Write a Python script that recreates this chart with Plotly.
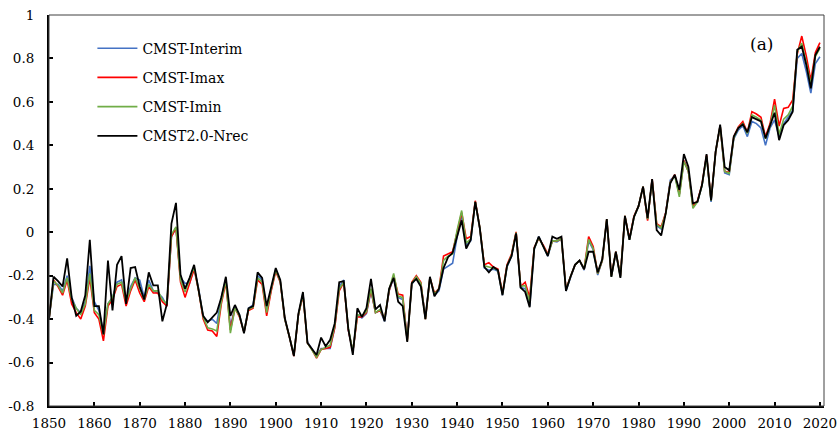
import plotly.graph_objects as go

years = list(range(1850, 2021))

cmst_interim = [
    -0.40, -0.24, -0.24, -0.27, -0.20, -0.30, -0.35, -0.37, -0.32, -0.155,
    -0.32, -0.36, -0.46, -0.33, -0.30, -0.23, -0.22, -0.31, -0.25, -0.21,
    -0.22, -0.30, -0.22, -0.27, -0.28, -0.30, -0.34, -0.02, 0.02, -0.21,
    -0.235, -0.235, -0.165, -0.26, -0.39, -0.41, -0.40, -0.42, -0.30, -0.215,
    -0.435, -0.345, -0.38, -0.46, -0.35, -0.335, -0.20, -0.22, -0.36, -0.26,
    -0.17, -0.225, -0.40, -0.48, -0.565, -0.38, -0.28, -0.505, -0.54, -0.57,
    -0.535, -0.535, -0.535, -0.44, -0.25, -0.22, -0.45, -0.55, -0.38, -0.395,
    -0.375, -0.27, -0.37, -0.36, -0.41, -0.27, -0.21, -0.30, -0.31, -0.49,
    -0.24, -0.21, -0.24, -0.39, -0.21, -0.29, -0.27, -0.17, -0.155, -0.143,
    -0.02, 0.08, -0.06, -0.04, 0.14, 0.015, -0.165, -0.175, -0.17, -0.18,
    -0.29, -0.16, -0.11, -0.005, -0.255, -0.26, -0.34, -0.08, -0.02, -0.065,
    -0.11, -0.04, -0.045, -0.03, -0.27, -0.21, -0.15, -0.13, -0.175, -0.04,
    -0.08, -0.197, -0.13, 0.055, -0.205, -0.095, -0.205, 0.07, -0.035, 0.07,
    0.12, 0.21, 0.06, 0.24, 0.03, 0.015, 0.09, 0.24, 0.26, 0.175,
    0.33, 0.28, 0.12, 0.14, 0.215, 0.35, 0.14, 0.37, 0.49, 0.273,
    0.265, 0.43, 0.47, 0.49, 0.44, 0.51, 0.50, 0.48, 0.40, 0.48,
    0.517, 0.44, 0.50, 0.53, 0.56, 0.80, 0.823, 0.74, 0.64, 0.777,
    0.808,
]

cmst_imax = [
    -0.40, -0.22, -0.25, -0.29, -0.22, -0.33, -0.37, -0.40, -0.34, -0.21,
    -0.37, -0.40, -0.50, -0.34, -0.31, -0.25, -0.24, -0.34, -0.27, -0.22,
    -0.28, -0.32, -0.25, -0.28, -0.28, -0.32, -0.34, -0.02, 0.02, -0.23,
    -0.30, -0.23, -0.17, -0.27, -0.40, -0.45, -0.455, -0.48, -0.33, -0.23,
    -0.45, -0.35, -0.39, -0.46, -0.36, -0.35, -0.22, -0.24, -0.385, -0.27,
    -0.18, -0.23, -0.40, -0.48, -0.57, -0.38, -0.29, -0.51, -0.54, -0.58,
    -0.54, -0.535, -0.53, -0.44, -0.27, -0.23, -0.45, -0.55, -0.39, -0.39,
    -0.37, -0.265, -0.37, -0.36, -0.40, -0.27, -0.20, -0.285, -0.29, -0.50,
    -0.23, -0.20, -0.23, -0.40, -0.21, -0.28, -0.26, -0.11, -0.10, -0.09,
    0.00, 0.09, -0.03, -0.02, 0.145, 0.02, -0.15, -0.14, -0.16, -0.17,
    -0.28, -0.15, -0.10, 0.002, -0.25, -0.23, -0.30, -0.07, -0.028, -0.06,
    -0.10, -0.04, -0.04, -0.03, -0.26, -0.20, -0.15, -0.13, -0.17, -0.02,
    -0.066, -0.19, -0.13, 0.06, -0.20, -0.09, -0.20, 0.075, -0.03, 0.075,
    0.12, 0.21, 0.053, 0.245, 0.04, 0.025, 0.09, 0.23, 0.265, 0.175,
    0.33, 0.28, 0.12, 0.145, 0.22, 0.355, 0.15, 0.37, 0.49, 0.28,
    0.275, 0.44, 0.485, 0.51, 0.46, 0.555, 0.544, 0.529, 0.44, 0.50,
    0.613, 0.489, 0.57, 0.575, 0.609, 0.82, 0.903, 0.81, 0.70, 0.827,
    0.873,
]

cmst_imin = [
    -0.40, -0.225, -0.245, -0.28, -0.21, -0.31, -0.35, -0.38, -0.33, -0.19,
    -0.36, -0.38, -0.47, -0.33, -0.30, -0.24, -0.23, -0.32, -0.26, -0.21,
    -0.26, -0.31, -0.24, -0.27, -0.27, -0.31, -0.33, -0.01, 0.025, -0.22,
    -0.275, -0.22, -0.16, -0.27, -0.39, -0.44, -0.445, -0.455, -0.32, -0.22,
    -0.465, -0.35, -0.385, -0.46, -0.355, -0.345, -0.21, -0.23, -0.37, -0.26,
    -0.175, -0.225, -0.40, -0.48, -0.565, -0.38, -0.285, -0.51, -0.54, -0.575,
    -0.54, -0.53, -0.52, -0.43, -0.26, -0.23, -0.44, -0.55, -0.38, -0.385,
    -0.365, -0.26, -0.37, -0.355, -0.40, -0.265, -0.19, -0.295, -0.30, -0.50,
    -0.235, -0.205, -0.235, -0.40, -0.21, -0.285, -0.26, -0.13, -0.11, -0.10,
    0.01, 0.10, -0.05, -0.03, 0.14, 0.02, -0.155, -0.16, -0.165, -0.175,
    -0.285, -0.155, -0.105, -0.002, -0.25, -0.245, -0.32, -0.075, -0.025, -0.065,
    -0.105, -0.04, -0.04, -0.03, -0.265, -0.205, -0.15, -0.13, -0.17, -0.033,
    -0.075, -0.19, -0.13, 0.06, -0.205, -0.09, -0.205, 0.075, -0.035, 0.07,
    0.12, 0.21, 0.06, 0.24, 0.035, 0.02, 0.085, 0.23, 0.26, 0.163,
    0.325, 0.28, 0.11, 0.14, 0.215, 0.35, 0.145, 0.37, 0.49, 0.28,
    0.27, 0.435, 0.48, 0.50, 0.455, 0.54, 0.53, 0.515, 0.43, 0.49,
    0.585, 0.45, 0.52, 0.54, 0.58, 0.83, 0.87, 0.78, 0.68, 0.81,
    0.847,
]

cmst2_nrec = [
    -0.40, -0.205, -0.225, -0.25, -0.12, -0.30, -0.385, -0.365, -0.29, -0.035,
    -0.34, -0.34, -0.47, -0.13, -0.36, -0.15, -0.11, -0.33, -0.165, -0.16,
    -0.25, -0.31, -0.185, -0.245, -0.245, -0.41, -0.33, 0.04, 0.135, -0.195,
    -0.26, -0.21, -0.15, -0.27, -0.385, -0.415, -0.39, -0.37, -0.30, -0.205,
    -0.385, -0.335, -0.38, -0.465, -0.35, -0.34, -0.185, -0.21, -0.34, -0.25,
    -0.165, -0.22, -0.395, -0.48, -0.57, -0.375, -0.275, -0.51, -0.54, -0.565,
    -0.485, -0.525, -0.495, -0.42, -0.23, -0.225, -0.445, -0.565, -0.35, -0.39,
    -0.35, -0.215, -0.355, -0.335, -0.41, -0.26, -0.21, -0.32, -0.34, -0.505,
    -0.235, -0.215, -0.25, -0.40, -0.205, -0.295, -0.26, -0.165, -0.115, -0.095,
    -0.02, 0.055, -0.075, -0.035, 0.14, 0.02, -0.16, -0.185, -0.16, -0.175,
    -0.29, -0.155, -0.11, -0.005, -0.255, -0.275, -0.345, -0.075, -0.02, -0.065,
    -0.11, -0.02, -0.03, -0.02, -0.27, -0.205, -0.15, -0.13, -0.17, -0.09,
    -0.09, -0.185, -0.125, 0.06, -0.205, -0.09, -0.21, 0.075, -0.035, 0.07,
    0.12, 0.21, 0.065, 0.245, 0.01, -0.015, 0.087, 0.225, 0.265, 0.195,
    0.36, 0.30, 0.133, 0.14, 0.217, 0.36, 0.146, 0.37, 0.495, 0.30,
    0.285, 0.44, 0.48, 0.497, 0.46, 0.53, 0.52, 0.51, 0.432, 0.493,
    0.55, 0.424, 0.493, 0.516, 0.555, 0.84, 0.855, 0.77, 0.662, 0.816,
    0.854,
]

series = [
    ("CMST-Interim", cmst_interim, "#4472C4"),
    ("CMST-Imax", cmst_imax, "#FF0000"),
    ("CMST-Imin", cmst_imin, "#70AD47"),
    ("CMST2.0-Nrec", cmst2_nrec, "#000000"),
]

x_ticks = list(range(1850, 2021, 10))
y_ticks = [-0.8, -0.6, -0.4, -0.2, 0, 0.2, 0.4, 0.6, 0.8, 1]
y_tick_text = ["-0.8", "-0.6", "-0.4", "-0.2", "0", "0.2", "0.4", "0.6", "0.8", "1"]

FONT = "DejaVu Serif"

fig = go.Figure()
for i, (name, vals, color) in enumerate(series):
    fig.add_trace(go.Scatter(
        x=years, y=vals, mode="lines", name=name,
        legendgroup=f"g{i}",
        line=dict(color=color, width=1.6 if color != "#000000" else 1.8),
    ))

fig.update_layout(
    width=838, height=435,
    margin=dict(l=49, r=14, t=15, b=29, autoexpand=False),
    paper_bgcolor="white", plot_bgcolor="white",
    font=dict(family=FONT, size=14, color="black"),
    showlegend=True,
    legend=dict(
        x=0.056, y=0.955, xanchor="left", yanchor="top",
        bgcolor="rgba(0,0,0,0)", font=dict(family=FONT, size=14),
        tracegroupgap=8, itemwidth=40,
    ),
    xaxis=dict(
        range=[1850, 2020.9], tickvals=x_ticks, automargin=False,
        ticks="inside", ticklen=4, tickwidth=1.5, tickcolor="black",
        showline=True, linecolor="black", linewidth=2,
        showgrid=False, zeroline=False,
        tickfont=dict(family=FONT, size=13.5), ticklabelstandoff=4,
    ),
    yaxis=dict(
        range=[-0.8, 1], tickvals=y_ticks, ticktext=y_tick_text, automargin=False,
        ticks="inside", ticklen=4, tickwidth=1.5, tickcolor="black",
        showline=True, linecolor="black", linewidth=2,
        showgrid=False, zeroline=False,
        tickfont=dict(family=FONT, size=13.5), ticklabelstandoff=10,
    ),
    shapes=[dict(
        type="rect", xref="paper", yref="paper", x0=0, y0=0, x1=1, y1=1,
        line=dict(color="#404040", width=1), layer="above",
    )],
    annotations=[dict(
        x=0.919, y=0.927, xref="paper", yref="paper",
        xanchor="center", yanchor="middle",
        text="(a)", showarrow=False,
        font=dict(family=FONT, size=17, color="black"),
    )],
)

fig.write_html("out.html")
